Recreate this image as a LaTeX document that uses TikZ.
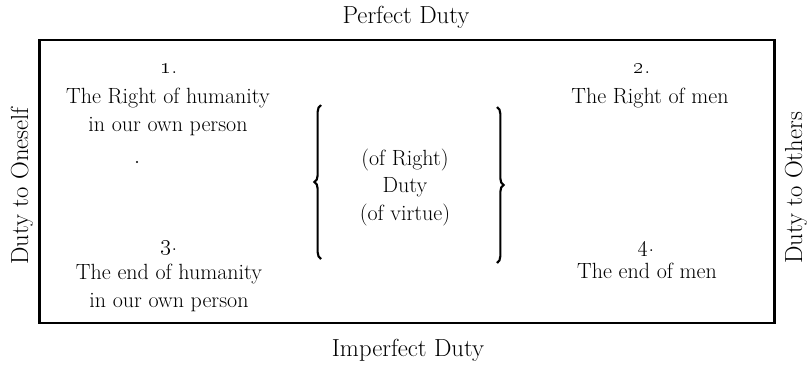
\documentclass[tikz,border=0pt]{standalone}
\usepackage{tikz}
\usetikzlibrary{decorations.pathreplacing}
\tikzset{
	side/.style={font=\fontsize{18.5}{22}\selectfont, inner sep=0pt, anchor=base},
	cell/.style={font=\fontsize{16.5}{20.6}\selectfont, inner sep=0pt, anchor=base, align=center},
	curly/.style={decorate, decoration={brace, amplitude=5pt}, line width=1.6pt}
}
\begin{document}
\begin{tikzpicture}[x=0.75pt,y=-0.75pt]
			\useasboundingbox (0,0) rectangle (807,365);
			\draw[line width=1.9pt] (39.5,40) rectangle (774.5,323);
			\node[side] (perfect) at (406,23) {Perfect Duty};
			\node[side] (imperfect) at (408,356) {Imperfect Duty};
			\node[side, rotate=90] (oneself) at (28,186) {Duty to Oneself};
			\node[side, rotate=90] (others) at (802,188) {Duty to Others};
			\node[cell] (n1) at (169,73) {\oldstylenums{1}.};
			\node[cell] (right1) at (168,131) {The Right of humanity\\in our own person};
			\node[cell] (n2) at (642,73) {\oldstylenums{2}.};
			\node[cell] (right2) at (650,103) {The Right of men};
			\node[cell] (n3) at (169,250) {\oldstylenums{3}.};
			\node[cell] (end3) at (169,307) {The end of humanity\\in our own person};
			\node[cell] (n4) at (646,251) {\oldstylenums{4}.};
			\node[cell] (end4) at (647,278) {The end of men};
			\node[cell] (duty) at (405,220) {(of Right)\\Duty\\(of virtue)};
			\coordinate (lb) at (321,259);
			\coordinate (lt) at (321,105);
			\coordinate (rt) at (497,107);
			\coordinate (rb) at (497,263);
			\draw[curly] (lb) -- (lt);
			\draw[curly] (rt) -- (rb);
			\fill (137,162) circle (1.1);
		\end{tikzpicture}
\end{document}
